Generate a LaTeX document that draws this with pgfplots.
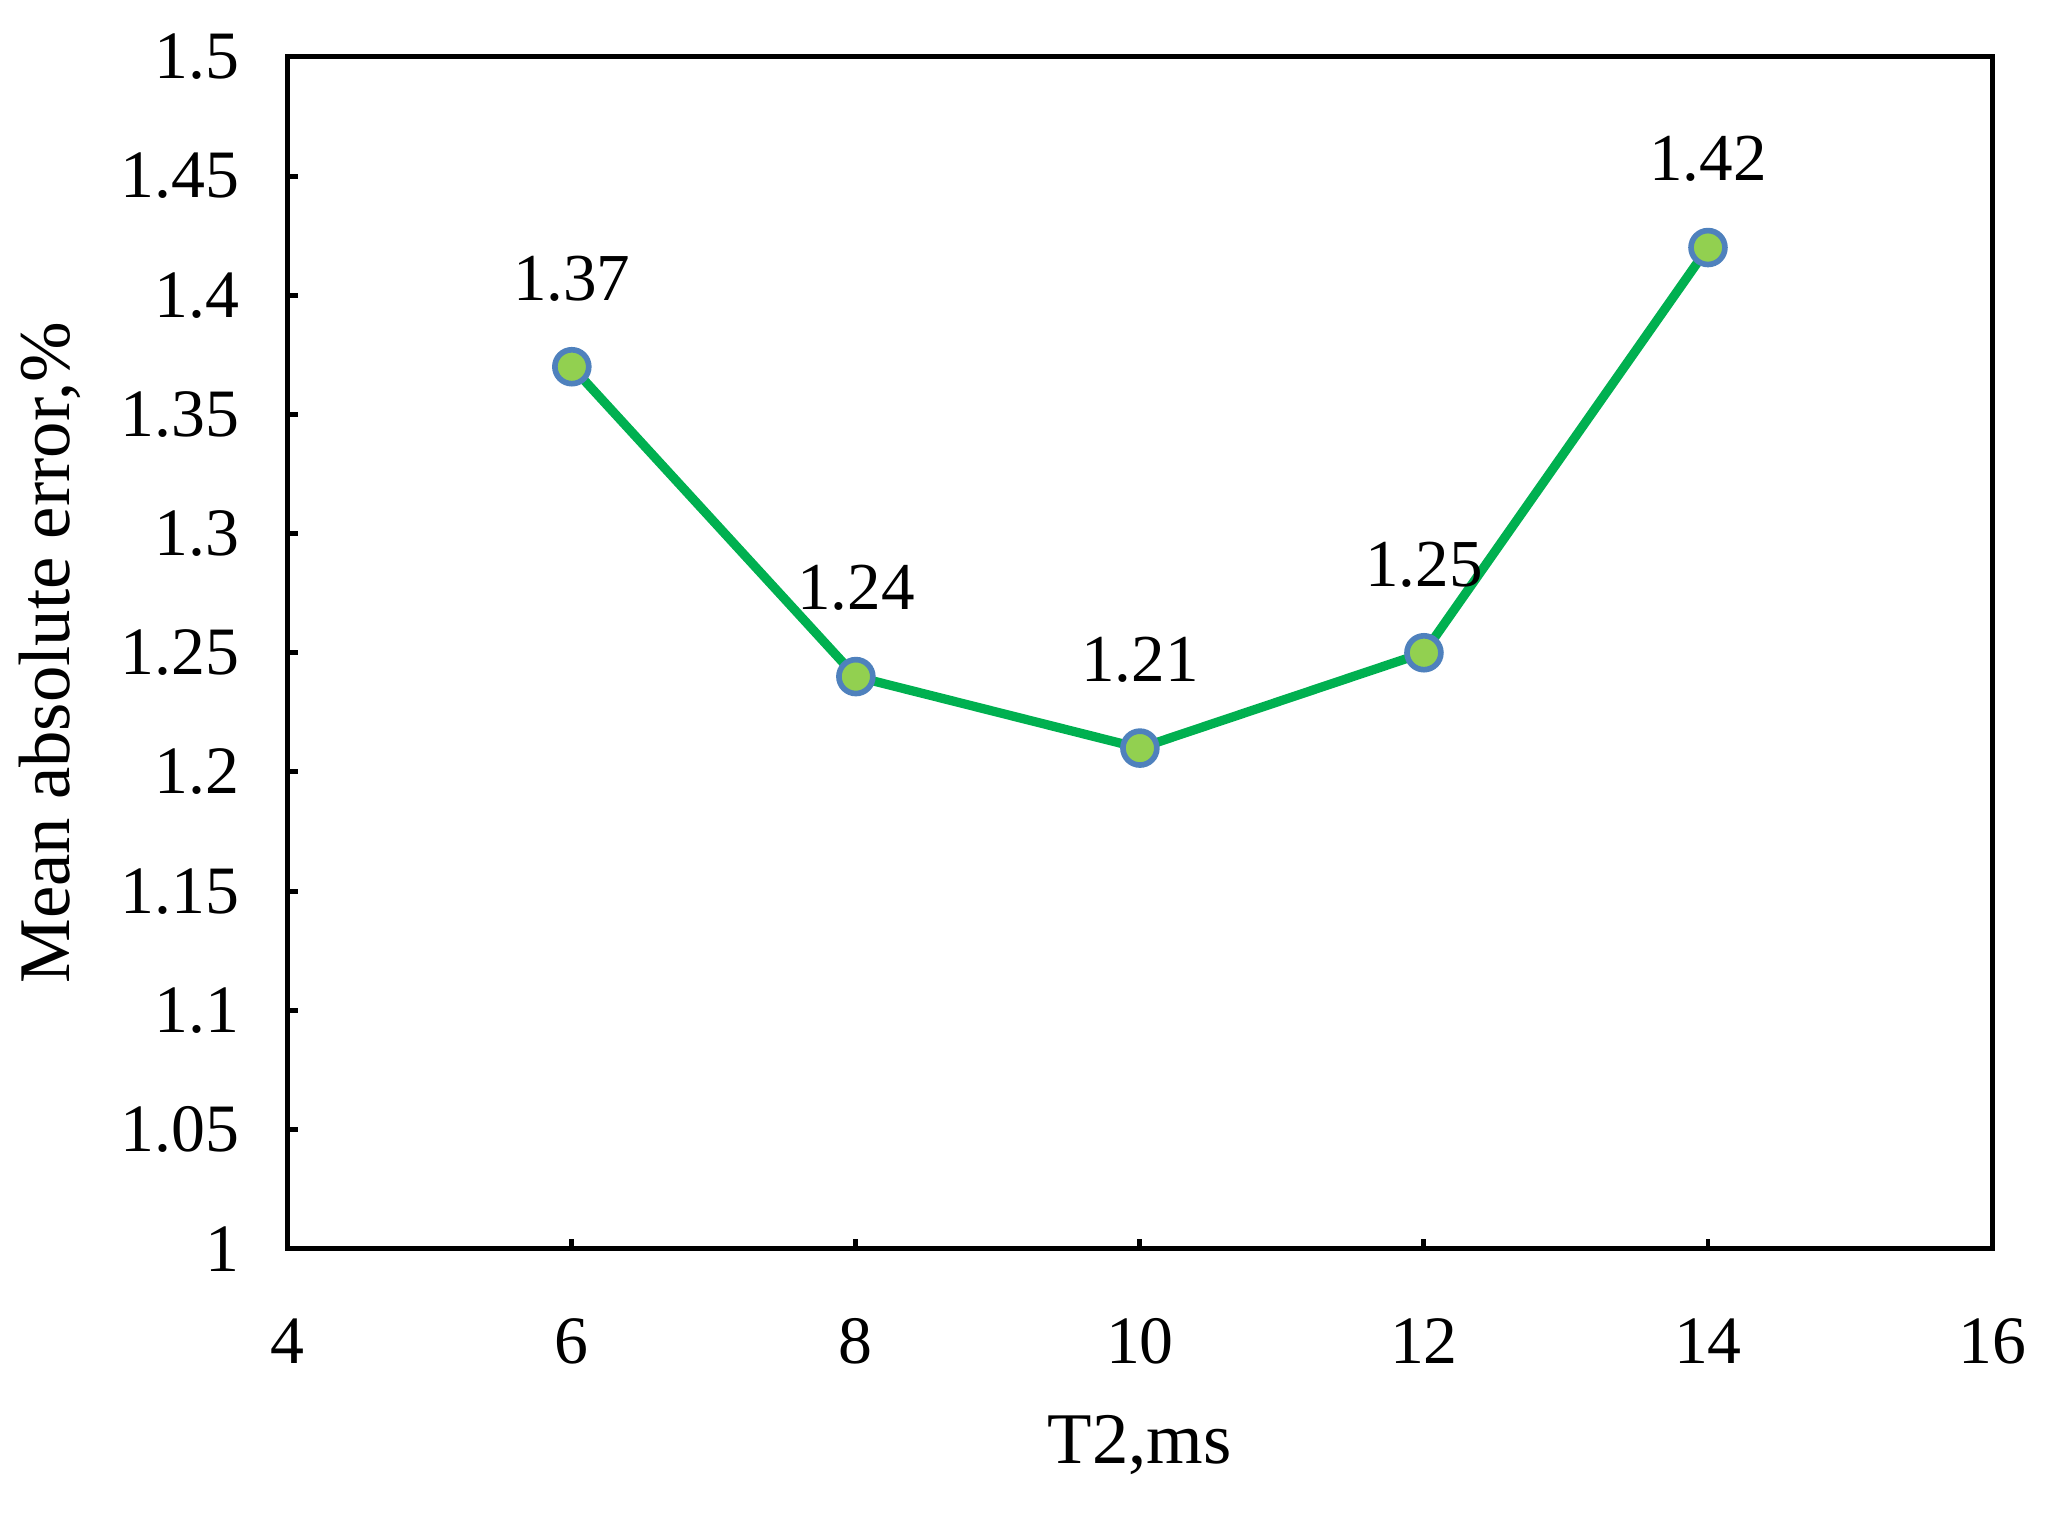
\documentclass[border=0pt]{standalone}
\usepackage{fontspec}
\setmainfont{Liberation Serif}
\usepackage{pgfplots}
\pgfplotsset{compat=1.18}
\definecolor{linegreen}{HTML}{00B050}
\definecolor{markfill}{HTML}{92D050}
\definecolor{markedge}{HTML}{4F81BD}

\begin{document}
\fontsize{9.6}{11.5}\selectfont
\begin{tikzpicture}
\begin{axis}[
    scale only axis,
    width=8.48cm,
    height=5.93cm,
    xmin=4, xmax=16,
    ymin=1, ymax=1.5,
    xtick={4,6,...,16},
    ytick={1,1.05,...,1.5},
    tick align=inside,
    major tick length=0.05cm,
    xtick pos=bottom,
    ytick pos=left,
    axis line style={line width=0.7pt},
    tick style={line width=0.7pt, black},
    /pgf/number format/assume math mode=true,
    tick label style={font=\fontsize{9.6}{11.5}\selectfont},
    xticklabel style={yshift=-0.23cm},
    yticklabel style={xshift=-0.12cm},
    xlabel={T2,ms},
    ylabel={Mean absolute error,\%},
    label style={font=\fontsize{10.3}{12}\selectfont},
    xlabel style={yshift=-0.02cm},
    ylabel style={yshift=-0.03cm},
    nodes near coords,
    point meta=explicit symbolic,
    every node near coord/.style={font=\fontsize{9.5}{11.5}\selectfont, text=black, anchor=center, yshift=0.44cm},
    clip=false
]
\addplot[
    color=linegreen,
    line width=1.3pt,
    mark=*,
    mark size=2.4pt,
    mark options={fill=markfill, draw=markedge, line width=0.8pt}
] coordinates {
    (6, 1.37) [1.37]
    (8, 1.24) [1.24]
    (10, 1.21) [1.21]
    (12, 1.25) [1.25]
    (14, 1.42) [1.42]
};
\end{axis}
\pgfresetboundingbox
\path[use as bounding box] ([xshift=-1.432cm,yshift=-1.328cm]current axis.south west) rectangle ([xshift=0.353cm,yshift=0.283cm]current axis.north east);
\end{tikzpicture}
\end{document}
